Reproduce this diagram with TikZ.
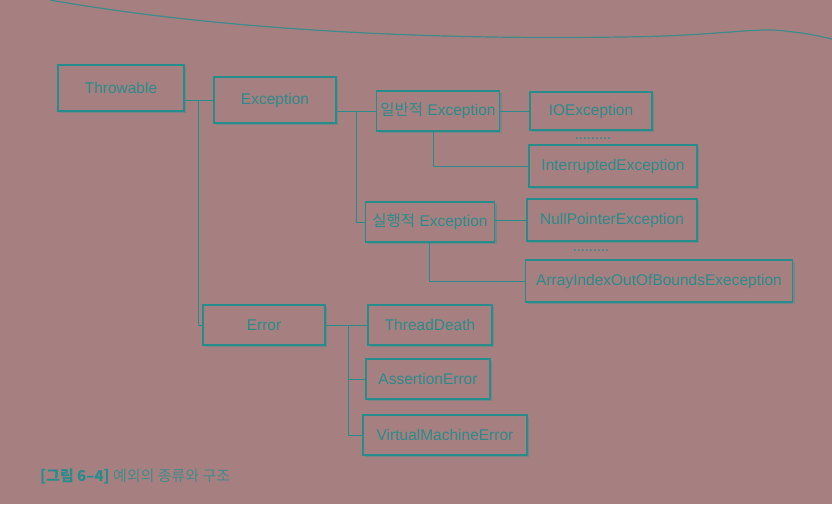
\documentclass[tikz,border=0pt]{standalone}
\usepackage{fontspec}
\setmainfont{Liberation Sans}
\newfontfamily\kr{Noto Sans CJK KR}
\usetikzlibrary{shadows}
\definecolor{bg}{RGB}{166,128,129}
\definecolor{tl}{RGB}{38,140,140}
\definecolor{tltext}{RGB}{44,138,138}
\begin{document}
\begin{tikzpicture}[x=1pt,y=-1pt,
  box/.style={draw=tl, line width=1.1pt, fill=bg, text=tltext, inner sep=0pt,
    font=\fontsize{15.5}{18}\selectfont,
    drop shadow={shadow xshift=2pt, shadow yshift=-2pt, fill=tl, opacity=0.35}},
  conn/.style={draw=tl, line width=1pt},
  dotsnode/.style={text=tl, font=\fontsize{11}{12}\selectfont\bfseries, inner sep=0pt, anchor=base}]
\useasboundingbox[fill=bg] (0,0) rectangle (832,504);
% page edge curve
\draw[tl!80!bg, line width=1.2pt] (50,0) .. controls (220,30) and (430,40) .. (620,37)
  .. controls (720,36) and (755,27) .. (785,31) .. controls (810,34) .. (832,39);
% boxes
\node[box, minimum width=126pt, minimum height=46pt] (thr) at (121,88) {Throwable};
\node[box, minimum width=122pt, minimum height=46pt] (exc) at (275,100) {Exception};
\node[box, minimum width=123pt, minimum height=40pt] (gen) at (438,111) {{\kr 일반적} Exception};
\node[box, minimum width=122pt, minimum height=38pt] (io) at (591,111) {IOException};
\node[box, minimum width=168pt, minimum height=42pt] (intr) at (613,166) {InterruptedException};
\node[box, minimum width=129pt, minimum height=40pt] (run) at (430,222) {{\kr 실행적} Exception};
\node[box, minimum width=170pt, minimum height=42pt] (npe) at (612,220) {NullPointerException};
\node[box, minimum width=267pt, minimum height=42pt] (aio) at (659,281) {ArrayIndexOutOfBoundsExeception};
\node[box, minimum width=122pt, minimum height=40pt] (err) at (264,325) {Error};
\node[box, minimum width=124pt, minimum height=40pt] (td) at (430,325) {ThreadDeath};
\node[box, minimum width=124pt, minimum height=40pt] (ae) at (428,379) {AssertionError};
\node[box, minimum width=164pt, minimum height=40pt] (vme) at (445,435) {VirtualMachineError};
% dots
\node[dotsnode] (d1) at (593,139) {.\kern1pt.\kern1pt.\kern1pt.\kern1pt.\kern1pt.\kern1pt.\kern1pt.\kern1pt.};
\node[dotsnode] (d2) at (591,251) {.\kern1pt.\kern1pt.\kern1pt.\kern1pt.\kern1pt.\kern1pt.\kern1pt.\kern1pt.};
% junction coordinates
\coordinate (v1) at (198,0);
\coordinate (v2) at (356,0);
\coordinate (v3) at (433,0);
\coordinate (v4) at (429,0);
\coordinate (v5) at (348,0);
% connectors
\draw[conn] (exc.west -| thr.east) -- (exc.west);
\draw[conn] (v1 |- exc.west) |- (err.west);
\draw[conn] (gen.west -| exc.east) -- (gen.west);
\draw[conn] (v2 |- gen.west) |- (run.west);
\draw[conn] (gen.east) -- (io.west);
\draw[conn] (v3 |- gen.south) |- (intr.west);
\draw[conn] (npe.west -| run.east) -- (npe.west);
\draw[conn] (v4 |- run.south) |- (aio.west);
\draw[conn] (err.east) -- (td.west);
\draw[conn] (v5 |- td.west) |- (ae.west);
\draw[conn] (v5 |- ae.west) |- (vme.west);
% caption
\node[anchor=west, inner sep=0pt, font=\fontsize{15}{17}\selectfont\kr, text=tl] (cap) at (40,476)
  {\textbf{[그림 6–4]} {\color{tl!75!bg}예외의 종류와 구조}};
\end{tikzpicture}
\end{document}
